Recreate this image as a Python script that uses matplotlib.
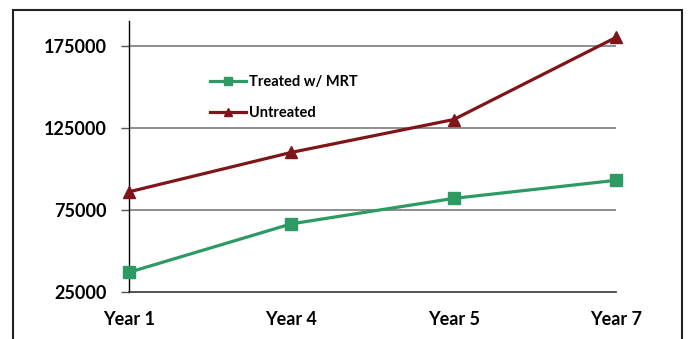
import matplotlib
matplotlib.use("Agg")
import matplotlib.pyplot as plt
from matplotlib.patches import Rectangle

categories = ["Year 1", "Year 4", "Year 5", "Year 7"]
treated = [37000, 66500, 82000, 93000]
untreated = [86000, 110000, 130000, 180000]
y_ticks = [25000, 75000, 125000, 175000]

plt.rcParams["font.family"] = ["Lato", "DejaVu Sans"]
plt.rcParams["font.weight"] = "bold"

fig = plt.figure(figsize=(6.88, 3.39), dpi=100)
ax = fig.add_axes([129 / 688, 1 - 292 / 339, (616 - 129) / 688, (292 - 21) / 339])

# outer frame around the chart
fig.patches.append(Rectangle((12.7 / 688, -0.05), (682 - 12.7) / 688, 1.05 - 10 / 339,
                             transform=fig.transFigure, fill=False,
                             edgecolor="#222222", linewidth=1.5))

x = list(range(len(categories)))
green = "#2e9a63"
red = "#7f1518"
ax.plot(x, treated, color=green, linewidth=2.3, marker="s", markersize=8,
        label="Treated w/ MRT", clip_on=False, zorder=3)
ax.plot(x, untreated, color=red, linewidth=2.3, marker="^", markersize=9,
        label="Untreated", clip_on=False, zorder=3)

ax.set_xlim(0, 3)
ax.set_ylim(25000, 190000)
ax.set_yticks(y_ticks)
ax.set_yticklabels([str(v) for v in y_ticks])
ax.set_xticks(x)
ax.set_xticklabels(categories)

for v in y_ticks[1:]:
    ax.axhline(v, color="#7a7a7a", linewidth=1.2, zorder=1)

for s in ["top", "right"]:
    ax.spines[s].set_visible(False)
ax.spines["left"].set_color("black")
ax.spines["left"].set_linewidth(1.0)
ax.spines["bottom"].set_color("#333333")
ax.spines["bottom"].set_linewidth(1.2)

ax.tick_params(axis="y", length=6, width=1.0, color="#555555", pad=10, labelsize=13)
ax.tick_params(axis="x", length=0, pad=14, labelsize=13)

leg = ax.legend(loc="upper left", bbox_to_anchor=(0.14, 0.85), frameon=False,
                fontsize=10.5, handlelength=2.45, handletextpad=0.2,
                labelspacing=1.21, markerscale=0.7)

fig.savefig("out.png", dpi=100)
